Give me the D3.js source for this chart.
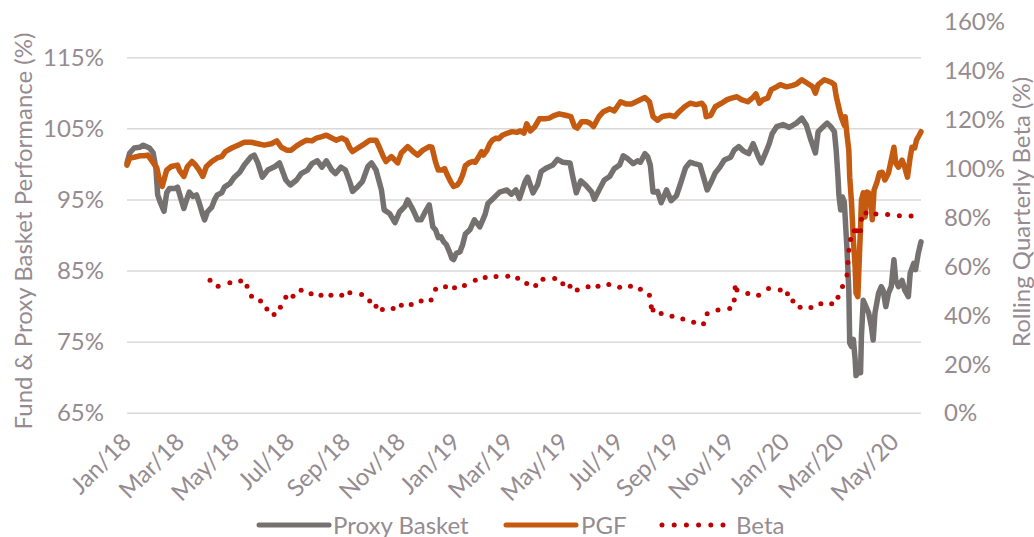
<!DOCTYPE html>
<html><head><meta charset="utf-8">
<script src="https://cdn.jsdelivr.net/npm/d3@7"></script>
<style>html,body{margin:0;padding:0;background:#fff;} svg{display:block;font-family:Lato, "Open Sans", sans-serif;}</style>
</head><body><svg id="chart" width="1034" height="537"></svg>
<script>
const seriesNames = ["Proxy Basket", "PGF", "Beta"];
const leftTicks = [65, 75, 85, 95, 105, 115];
const rightTicks = [0, 20, 40, 60, 80, 100, 120, 140, 160];
const xTickDates = ["2018-01-01","2018-03-01","2018-05-01","2018-07-01","2018-09-01","2018-11-01","2019-01-01","2019-03-01","2019-05-01","2019-07-01","2019-09-01","2019-11-01","2020-01-01","2020-03-01","2020-05-01"];

const pgfDates = ["2018-01-01","2018-01-04","2018-01-09","2018-01-15","2018-01-20","2018-01-24","2018-01-28","2018-02-03","2018-02-06","2018-02-09","2018-02-14","2018-02-19","2018-02-26","2018-02-28","2018-03-05","2018-03-09","2018-03-14","2018-03-18","2018-03-22","2018-03-26","2018-03-30","2018-04-05","2018-04-11","2018-04-16","2018-04-20","2018-04-27","2018-05-04","2018-05-11","2018-05-19","2018-05-26","2018-06-02","2018-06-10","2018-06-16","2018-06-21","2018-06-27","2018-07-02","2018-07-08","2018-07-13","2018-07-19","2018-07-25","2018-07-30","2018-08-05","2018-08-10","2018-08-16","2018-08-21","2018-08-27","2018-09-01","2018-09-05","2018-09-08","2018-09-14","2018-09-19","2018-09-27","2018-10-04","2018-10-08","2018-10-12","2018-10-15","2018-10-21","2018-10-28","2018-11-01","2018-11-08","2018-11-14","2018-11-19","2018-11-25","2018-12-02","2018-12-05","2018-12-09","2018-12-12","2018-12-16","2018-12-19","2018-12-22","2018-12-26","2018-12-29","2019-01-02","2019-01-05","2019-01-08","2019-01-11","2019-01-15","2019-01-19","2019-01-22","2019-01-26","2019-01-29","2019-01-31","2019-02-04","2019-02-07","2019-02-10","2019-02-14","2019-02-17","2019-02-21","2019-02-27","2019-03-04","2019-03-09","2019-03-13","2019-03-17","2019-03-20","2019-03-24","2019-03-29","2019-04-03","2019-04-09","2019-04-14","2019-04-20","2019-04-25","2019-05-02","2019-05-08","2019-05-12","2019-05-15","2019-05-20","2019-05-25","2019-05-29","2019-06-02","2019-06-08","2019-06-13","2019-06-20","2019-06-25","2019-07-02","2019-07-08","2019-07-14","2019-07-21","2019-07-29","2019-08-03","2019-08-07","2019-08-12","2019-08-17","2019-08-20","2019-08-26","2019-08-31","2019-09-05","2019-09-11","2019-09-17","2019-09-24","2019-09-30","2019-10-03","2019-10-05","2019-10-10","2019-10-15","2019-10-22","2019-10-28","2019-11-02","2019-11-08","2019-11-13","2019-11-20","2019-11-25","2019-11-29","2019-12-03","2019-12-07","2019-12-12","2019-12-16","2019-12-22","2019-12-26","2020-01-02","2020-01-09","2020-01-13","2020-01-19","2020-01-25","2020-01-31","2020-02-03","2020-02-06","2020-02-13","2020-02-21","2020-02-24","2020-02-26","2020-03-01","2020-03-03","2020-03-06","2020-03-07","2020-03-09","2020-03-11","2020-03-12","2020-03-14","2020-03-16","2020-03-18","2020-03-19","2020-03-21","2020-03-22","2020-03-24","2020-03-25","2020-03-27","2020-03-29","2020-03-31","2020-04-02","2020-04-05","2020-04-06","2020-04-08","2020-04-11","2020-04-14","2020-04-17","2020-04-20","2020-04-24","2020-04-27","2020-04-30","2020-05-02","2020-05-05","2020-05-09","2020-05-12","2020-05-15","2020-05-18","2020-05-20","2020-05-23","2020-05-25","2020-05-28","2020-05-30"];
const pgfValues = [99.9,100.9,101.0,101.2,101.2,101.3,100.6,99.5,97.8,96.9,99.2,99.7,99.9,99.2,98.3,99.7,100.4,99.9,99.2,98.3,99.7,100.4,100.9,101.1,101.8,102.3,102.7,103.1,103.1,102.9,102.7,102.9,103.3,102.4,102.0,102.0,102.6,103.0,103.4,103.3,103.7,103.9,104.1,103.7,103.4,103.7,103.4,102.3,101.8,102.3,102.7,103.4,103.4,102.3,101.1,100.4,101.1,100.2,101.6,102.5,101.8,101.3,102.0,102.5,102.4,100.3,99.2,99.2,99.4,98.5,97.5,96.9,97.1,97.6,98.5,99.8,100.2,100.4,100.3,101.1,101.8,101.3,102.0,102.9,103.4,103.7,103.6,104.1,104.4,104.6,104.5,104.7,104.4,105.7,104.7,105.3,106.4,106.4,106.5,106.9,107.1,106.9,106.7,105.3,105.1,106.0,106.0,105.8,105.3,106.7,107.4,107.8,107.5,108.8,108.5,108.5,108.9,109.4,108.8,106.7,106.2,106.7,106.8,106.9,106.7,107.4,108.1,108.6,108.4,108.6,108.1,106.7,106.9,108.1,108.6,109.1,109.3,109.5,109.1,108.8,109.3,109.9,108.6,109.1,109.3,110.5,110.9,111.2,110.9,111.1,111.3,111.9,111.4,110.9,110.0,111.2,111.9,111.5,111.2,109.6,107.4,106.5,105.5,106.7,104.1,102.0,98.2,94.6,89.4,85.6,81.9,81.4,84.7,91.2,95.0,96.0,92.6,96.1,96.0,94.0,92.2,96.4,97.4,98.8,98.9,97.8,98.8,100.6,102.4,100.2,99.6,100.6,99.6,98.2,101.0,102.4,102.3,103.4,104.1,104.6];

const proxyDates = ["2018-01-01","2018-01-04","2018-01-09","2018-01-15","2018-01-19","2018-01-24","2018-01-26","2018-01-30","2018-02-02","2018-02-04","2018-02-07","2018-02-11","2018-02-14","2018-02-17","2018-02-23","2018-02-26","2018-03-01","2018-03-05","2018-03-08","2018-03-11","2018-03-15","2018-03-19","2018-03-22","2018-03-26","2018-03-28","2018-03-31","2018-04-05","2018-04-08","2018-04-11","2018-04-16","2018-04-19","2018-04-25","2018-04-30","2018-05-06","2018-05-11","2018-05-18","2018-05-22","2018-05-26","2018-05-31","2018-06-06","2018-06-14","2018-06-19","2018-06-26","2018-07-01","2018-07-08","2018-07-13","2018-07-20","2018-07-25","2018-07-31","2018-08-05","2018-08-10","2018-08-16","2018-08-20","2018-08-26","2018-08-31","2018-09-05","2018-09-08","2018-09-14","2018-09-19","2018-09-25","2018-09-29","2018-10-04","2018-10-10","2018-10-13","2018-10-19","2018-10-25","2018-10-30","2018-11-05","2018-11-08","2018-11-14","2018-11-19","2018-11-23","2018-11-27","2018-12-02","2018-12-06","2018-12-09","2018-12-12","2018-12-15","2018-12-18","2018-12-21","2018-12-25","2018-12-27","2018-12-29","2019-01-01","2019-01-05","2019-01-08","2019-01-11","2019-01-16","2019-01-21","2019-01-27","2019-02-02","2019-02-05","2019-02-10","2019-02-18","2019-02-26","2019-03-03","2019-03-08","2019-03-12","2019-03-18","2019-03-21","2019-03-27","2019-04-01","2019-04-05","2019-04-11","2019-04-18","2019-04-23","2019-04-29","2019-05-07","2019-05-10","2019-05-14","2019-05-19","2019-05-25","2019-05-31","2019-06-03","2019-06-09","2019-06-14","2019-06-20","2019-06-25","2019-07-01","2019-07-05","2019-07-10","2019-07-16","2019-07-21","2019-07-24","2019-07-29","2019-08-01","2019-08-04","2019-08-07","2019-08-12","2019-08-16","2019-08-22","2019-08-27","2019-09-02","2019-09-07","2019-09-12","2019-09-17","2019-09-22","2019-09-28","2019-10-02","2019-10-06","2019-10-10","2019-10-15","2019-10-20","2019-10-25","2019-11-01","2019-11-05","2019-11-10","2019-11-15","2019-11-21","2019-11-26","2019-12-02","2019-12-05","2019-12-11","2019-12-14","2019-12-17","2019-12-22","2019-12-29","2020-01-05","2020-01-13","2020-01-19","2020-01-24","2020-01-29","2020-02-03","2020-02-06","2020-02-11","2020-02-16","2020-02-20","2020-02-24","2020-02-26","2020-02-28","2020-02-29","2020-03-02","2020-03-04","2020-03-06","2020-03-07","2020-03-09","2020-03-11","2020-03-12","2020-03-14","2020-03-16","2020-03-18","2020-03-19","2020-03-21","2020-03-24","2020-03-25","2020-03-27","2020-03-30","2020-04-02","2020-04-05","2020-04-07","2020-04-09","2020-04-13","2020-04-16","2020-04-18","2020-04-21","2020-04-24","2020-04-27","2020-04-30","2020-05-02","2020-05-05","2020-05-09","2020-05-12","2020-05-16","2020-05-18","2020-05-22","2020-05-24","2020-05-27","2020-05-30"];
const proxyValues = [100.2,101.6,102.3,102.4,102.7,102.4,102.3,101.6,99.5,95.7,94.6,93.4,96.0,96.6,96.6,96.8,95.5,93.8,95.0,96.1,95.5,95.7,94.6,92.9,92.2,93.3,94.0,95.0,95.7,96.0,96.8,97.3,98.2,98.9,99.9,101.0,101.3,100.2,98.2,99.2,99.7,100.2,97.8,97.1,97.8,98.7,99.2,100.1,100.5,99.6,100.5,99.2,98.7,99.6,99.2,97.5,96.2,96.9,97.6,99.7,100.2,99.2,96.4,93.6,93.1,91.8,93.3,94.1,95.0,93.6,92.2,92.2,93.2,94.3,91.2,90.8,89.7,89.8,89.1,88.7,87.5,86.8,86.6,87.5,87.7,88.7,90.2,90.8,92.2,91.2,93.0,94.5,95.1,96.1,96.4,95.8,96.4,95.2,97.5,98.2,96.0,97.1,99.0,99.5,99.9,100.7,100.3,100.2,98.3,96.0,97.7,97.0,96.1,95.1,96.6,97.8,98.3,99.4,99.9,101.2,100.8,100.1,100.5,100.3,101.5,101.1,99.9,96.1,96.2,94.6,96.4,94.9,95.6,97.5,99.5,100.3,100.1,99.9,98.2,96.4,97.4,98.8,99.6,100.6,101.0,102.0,102.5,101.9,101.5,102.9,101.0,100.2,102.0,103.0,104.3,105.3,105.6,105.2,105.8,106.5,105.5,103.4,101.6,104.6,105.2,105.8,105.3,104.6,102.0,98.2,95.7,93.6,95.4,94.7,92.5,88.0,82.3,74.9,74.4,75.4,72.6,70.3,70.7,70.7,75.9,80.9,80.0,79.1,77.2,75.3,79.1,81.9,82.8,82.3,80.0,81.9,82.8,86.6,83.7,82.8,83.7,82.3,81.4,84.7,86.1,85.2,87.5,89.1];

const betaDates = ["2018-04-03","2018-04-12","2018-04-25","2018-05-07","2018-05-14","2018-05-19","2018-05-29","2018-06-05","2018-06-13","2018-06-20","2018-06-26","2018-07-04","2018-07-13","2018-07-24","2018-08-04","2018-08-15","2018-08-27","2018-09-05","2018-09-18","2018-09-27","2018-10-04","2018-10-11","2018-10-23","2018-11-01","2018-11-12","2018-11-23","2018-12-04","2018-12-09","2018-12-20","2018-12-30","2019-01-10","2019-01-22","2019-02-02","2019-02-14","2019-02-27","2019-03-10","2019-03-20","2019-03-30","2019-04-07","2019-04-20","2019-04-29","2019-05-07","2019-05-15","2019-05-27","2019-06-07","2019-06-19","2019-07-01","2019-07-13","2019-07-24","2019-08-03","2019-08-05","2019-08-07","2019-08-16","2019-08-28","2019-09-09","2019-09-21","2019-10-02","2019-10-06","2019-10-18","2019-10-31","2019-11-05","2019-11-06","2019-11-08","2019-11-20","2019-12-02","2019-12-13","2019-12-26","2020-01-03","2020-01-09","2020-01-17","2020-01-29","2020-02-09","2020-02-21","2020-02-28","2020-03-04","2020-03-09","2020-03-10","2020-03-11","2020-03-13","2020-03-17","2020-03-20","2020-03-24","2020-03-25","2020-03-30","2020-04-10","2020-04-23","2020-05-06","2020-05-19"];
const betaValues = [54.4,52.0,53.4,54.1,52.0,47.9,45.9,42.7,40.4,43.4,47.5,47.9,50.3,48.9,48.3,48.3,48.3,49.3,48.6,45.9,43.8,42.5,42.9,44.2,44.5,45.9,46.3,50.7,51.8,51.4,52.3,54.4,55.5,55.9,56.1,55.2,53.1,52.3,54.8,55.1,53.0,52.0,50.4,51.8,52.0,52.7,51.6,52.0,50.7,48.3,43.6,42.2,40.8,39.7,38.6,37.2,36.6,40.7,42.2,42.9,46.3,51.4,50.4,49.0,48.3,51.0,50.4,48.9,45.9,43.4,43.3,44.8,44.8,47.5,51.9,56.6,61.7,66.7,71.1,74.7,74.7,74.7,79.4,81.9,81.5,81.3,80.8,80.7];

const parse = d3.timeParse("%Y-%m-%d");
const svg = d3.select("#chart");
const textColor = "#958b90";
const colors = {proxy: "#767171", pgf: "#c55a11", beta: "#c00000"};
const fontSize = 24;

const x = d3.scaleTime().domain([parse("2018-01-01"), parse("2020-05-30")]).range([127, 921]);
const yL = d3.scaleLinear().domain([65, 120]).range([413.3, 22.1]);
const yR = d3.scaleLinear().domain([0, 160]).range([413.3, 22.1]);

// gridlines
svg.append("g").selectAll("line").data(leftTicks).join("line")
  .attr("x1", x.range()[0]).attr("x2", x.range()[1])
  .attr("y1", d => yL(d)).attr("y2", d => yL(d))
  .attr("stroke", "#d9d9d9").attr("stroke-width", 1.5);

function styleAxis(g) {
  g.select(".domain").remove();
  g.selectAll("line").remove();
  g.selectAll("text").attr("fill", textColor).style("font-size", fontSize + "px").style("font-family", "Lato");
}

svg.append("g").attr("transform", "translate(127,0)")
  .call(d3.axisLeft(yL).tickValues(leftTicks).tickSize(0).tickPadding(23).tickFormat(d => d + "%"))
  .call(styleAxis);

svg.append("g").attr("transform", "translate(921,0)")
  .call(d3.axisRight(yR).tickValues(rightTicks).tickSize(0).tickPadding(23).tickFormat(d => d + "%"))
  .call(styleAxis);

const xAxisG = svg.append("g").attr("transform", "translate(0,413.3)")
  .call(d3.axisBottom(x).tickValues(xTickDates.map(parse)).tickSize(0).tickFormat(d3.timeFormat("%b/%y")))
  .call(styleAxis);
xAxisG.selectAll("text")
  .attr("x", 0).attr("y", 0).attr("dy", null)
  .attr("text-anchor", "end")
  .attr("transform", "translate(5,30) rotate(-45)");

// axis titles
svg.append("text").attr("transform", "translate(22,231) rotate(-90)")
  .attr("text-anchor", "middle").attr("dominant-baseline", "central")
  .attr("fill", textColor).style("font-size", fontSize + "px")
  .text("Fund & Proxy Basket Performance (%)");
svg.append("text").attr("transform", "translate(1020,212) rotate(-90)")
  .attr("text-anchor", "middle").attr("dominant-baseline", "central")
  .attr("fill", textColor).style("font-size", fontSize + "px")
  .text("Rolling Quarterly Beta (%)");

// lines
const proxyData = proxyDates.map((d, i) => ({date: parse(d), value: proxyValues[i]}));
const pgfData = pgfDates.map((d, i) => ({date: parse(d), value: pgfValues[i]}));
const betaData = betaDates.map((d, i) => ({date: parse(d), value: betaValues[i]}));

const lineL = d3.line().x(d => x(d.date)).y(d => yL(d.value));

svg.append("path").datum(proxyData).attr("d", lineL)
  .attr("fill", "none").attr("stroke", colors.proxy).attr("stroke-width", 5.5)
  .attr("stroke-linejoin", "round").attr("stroke-linecap", "round");
svg.append("path").datum(pgfData).attr("d", lineL)
  .attr("fill", "none").attr("stroke", colors.pgf).attr("stroke-width", 5.5)
  .attr("stroke-linejoin", "round").attr("stroke-linecap", "round");

svg.append("g").selectAll("circle").data(betaData).join("circle")
  .attr("cx", d => x(d.date)).attr("cy", d => yR(d.value)).attr("r", 2.5)
  .attr("fill", colors.beta);

// legend
const legY = 524;
const leg = svg.append("g");
leg.append("line").attr("x1", 259).attr("x2", 329).attr("y1", legY + 1).attr("y2", legY + 1)
  .attr("stroke", colors.proxy).attr("stroke-width", 5).attr("stroke-linecap", "round");
leg.append("text").attr("x", 333).attr("y", legY).attr("dominant-baseline", "central")
  .attr("fill", textColor).style("font-size", fontSize + "px").text(seriesNames[0]);
leg.append("line").attr("x1", 506).attr("x2", 576).attr("y1", legY + 1).attr("y2", legY + 1)
  .attr("stroke", colors.pgf).attr("stroke-width", 5).attr("stroke-linecap", "round");
leg.append("text").attr("x", 581).attr("y", legY).attr("dominant-baseline", "central")
  .attr("fill", textColor).style("font-size", fontSize + "px").text(seriesNames[1]);
leg.append("line").attr("x1", 662).attr("x2", 723).attr("y1", legY + 1).attr("y2", legY + 1)
  .attr("stroke", colors.beta).attr("stroke-width", 5).attr("stroke-linecap", "round")
  .attr("stroke-dasharray", "0,12.2");
leg.append("text").attr("x", 736).attr("y", legY).attr("dominant-baseline", "central")
  .attr("fill", textColor).style("font-size", fontSize + "px").text(seriesNames[2]);
</script></body></html>
